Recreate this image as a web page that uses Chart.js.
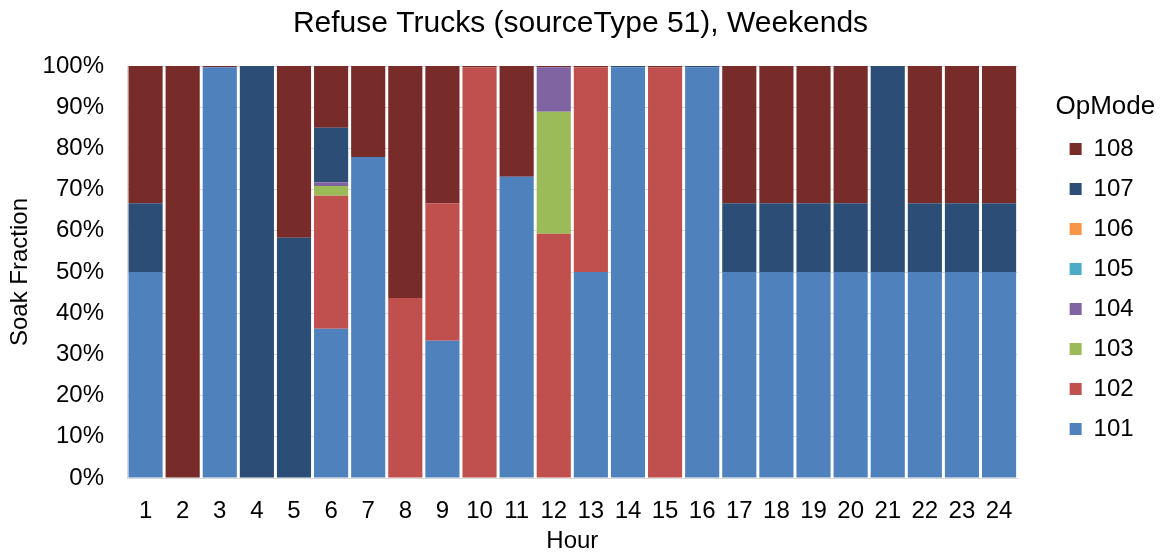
<!DOCTYPE html>
<html>
<head>
<meta charset="utf-8">
<script src="https://cdn.jsdelivr.net/npm/chart.js@4.4.1/dist/chart.umd.min.js"></script>
<style>
  html, body { margin: 0; padding: 0; background: #ffffff; }
  #wrap { width: 1162px; height: 553px; position: relative; }
</style>
</head>
<body>
<div id="wrap"><canvas id="chart" width="1162" height="553"></canvas></div>
<script>
// Hour of day
const hours = ['1','2','3','4','5','6','7','8','9','10','11','12','13','14','15','16','17','18','19','20','21','22','23','24'];

// Soak fraction (%) by operating mode, per hour
const op101 = [50, 0, 99.7, 0, 0, 36.2, 77.9, 0, 33.3, 0, 73.1, 0, 50, 99.7, 0, 99.7, 50, 50, 50, 50, 50, 50, 50, 50];
const op102 = [0, 0, 0, 0, 0, 32.3, 0, 43.7, 33.4, 99.7, 0, 59.3, 49.7, 0, 99.7, 0, 0, 0, 0, 0, 0, 0, 0, 0];
const op103 = [0, 0, 0, 0, 0, 2.4, 0, 0, 0, 0, 0, 29.6, 0, 0, 0, 0, 0, 0, 0, 0, 0, 0, 0, 0];
const op104 = [0, 0, 0, 0, 0, 0.9, 0, 0, 0, 0, 0, 10.8, 0, 0, 0, 0, 0, 0, 0, 0, 0, 0, 0, 0];
const op105 = [0, 0, 0, 0, 0, 0, 0, 0, 0, 0, 0, 0, 0, 0, 0, 0, 0, 0, 0, 0, 0, 0, 0, 0];
const op106 = [0, 0, 0, 0, 0, 0, 0, 0, 0, 0, 0, 0, 0, 0, 0, 0, 0, 0, 0, 0, 0, 0, 0, 0];
const op107 = [16.7, 0, 0, 100, 58.3, 13.2, 0, 0, 0, 0, 0, 0, 0, 0.3, 0, 0.3, 16.7, 16.7, 16.7, 16.7, 50, 16.7, 16.7, 16.7];
const op108 = [33.3, 100, 0.3, 0, 41.7, 15.0, 22.1, 56.3, 33.3, 0.3, 26.9, 0.3, 0.3, 0, 0.3, 0, 33.3, 33.3, 33.3, 33.3, 0, 33.3, 33.3, 33.3];

// Y axis tick values
const yTicks = [0, 10, 20, 30, 40, 50, 60, 70, 80, 90, 100];

const FONT = "'Liberation Sans', Arial, sans-serif";
const series = [
  { label: '101', data: op101, color: '#4F81BD' },
  { label: '102', data: op102, color: '#C0504D' },
  { label: '103', data: op103, color: '#9BBB59' },
  { label: '104', data: op104, color: '#8064A2' },
  { label: '105', data: op105, color: '#4BACC6' },
  { label: '106', data: op106, color: '#F79646' },
  { label: '107', data: op107, color: '#2C4D75' },
  { label: '108', data: op108, color: '#772C2A' }
];

new Chart(document.getElementById('chart'), {
  type: 'bar',
  data: {
    labels: hours,
    datasets: series.map(s => ({
      label: s.label,
      data: s.data,
      backgroundColor: s.color,
      borderWidth: 0,
      barPercentage: 0.92,
      categoryPercentage: 1.0
    }))
  },
  options: {
    responsive: false,
    animation: false,
    devicePixelRatio: 1,
    layout: { padding: { left: 4, right: 5, top: 4, bottom: 0 } },
    plugins: {
      title: {
        display: true,
        text: 'Refuse Trucks (sourceType 51), Weekends',
        color: '#000000',
        font: { family: FONT, size: 30, weight: 'normal', lineHeight: 1.2 },
        padding: { top: 2, bottom: 24 }
      },
      legend: {
        display: true,
        position: 'right',
        reverse: true,
        align: 'start',
        title: {
          display: true,
          text: 'OpMode',
          color: '#000000',
          font: { family: FONT, size: 26, lineHeight: 1.0 },
          padding: { top: 90, bottom: 1 }
        },
        labels: {
          color: '#000000',
          font: { family: FONT, size: 24 },
          boxWidth: 12,
          boxHeight: 12,
          padding: 16,
          // trailing spaces widen the legend column so its title fits
          generateLabels: chart => Chart.defaults.plugins.legend.labels.generateLabels(chart)
            .map(item => Object.assign(item, { text: item.text + '  ' }))
        }
      },
      tooltip: { enabled: false }
    },
    scales: {
      x: {
        stacked: true,
        grid: { display: false, drawTicks: false },
        border: { display: true, color: '#D9D9D9', width: 1 },
        ticks: { color: '#000000', font: { family: FONT, size: 24 }, padding: 19, maxRotation: 0, autoSkip: false },
        title: { display: true, text: 'Hour', color: '#000000', font: { family: FONT, size: 24, lineHeight: 1.0 }, padding: { top: 0, bottom: 0 } },
        afterFit: s => { s.height = 75; }
      },
      y: {
        stacked: true,
        min: 0,
        max: 100,
        afterBuildTicks: axis => { axis.ticks = yTicks.map(v => ({ value: v })); },
        grid: { color: '#D9D9D9', drawTicks: false },
        border: { display: true, color: '#D9D9D9', width: 1 },
        ticks: { color: '#000000', font: { family: FONT, size: 24 }, padding: 23, callback: v => v + '%' },
        title: { display: true, text: 'Soak Fraction', color: '#000000', font: { family: FONT, size: 24, lineHeight: 1.0 }, padding: { top: 4, bottom: 0 } },
        afterFit: s => { s.width = 123; }
      },
      // empty right-hand axis that keeps the legend clear of the bars
      gap: {
        position: 'right',
        display: true,
        min: 0,
        max: 100,
        grid: { display: false, drawTicks: false },
        border: { display: false },
        ticks: { display: false },
        afterFit: s => { s.width = 36; }
      }
    }
  }
});
</script>
</body>
</html>
